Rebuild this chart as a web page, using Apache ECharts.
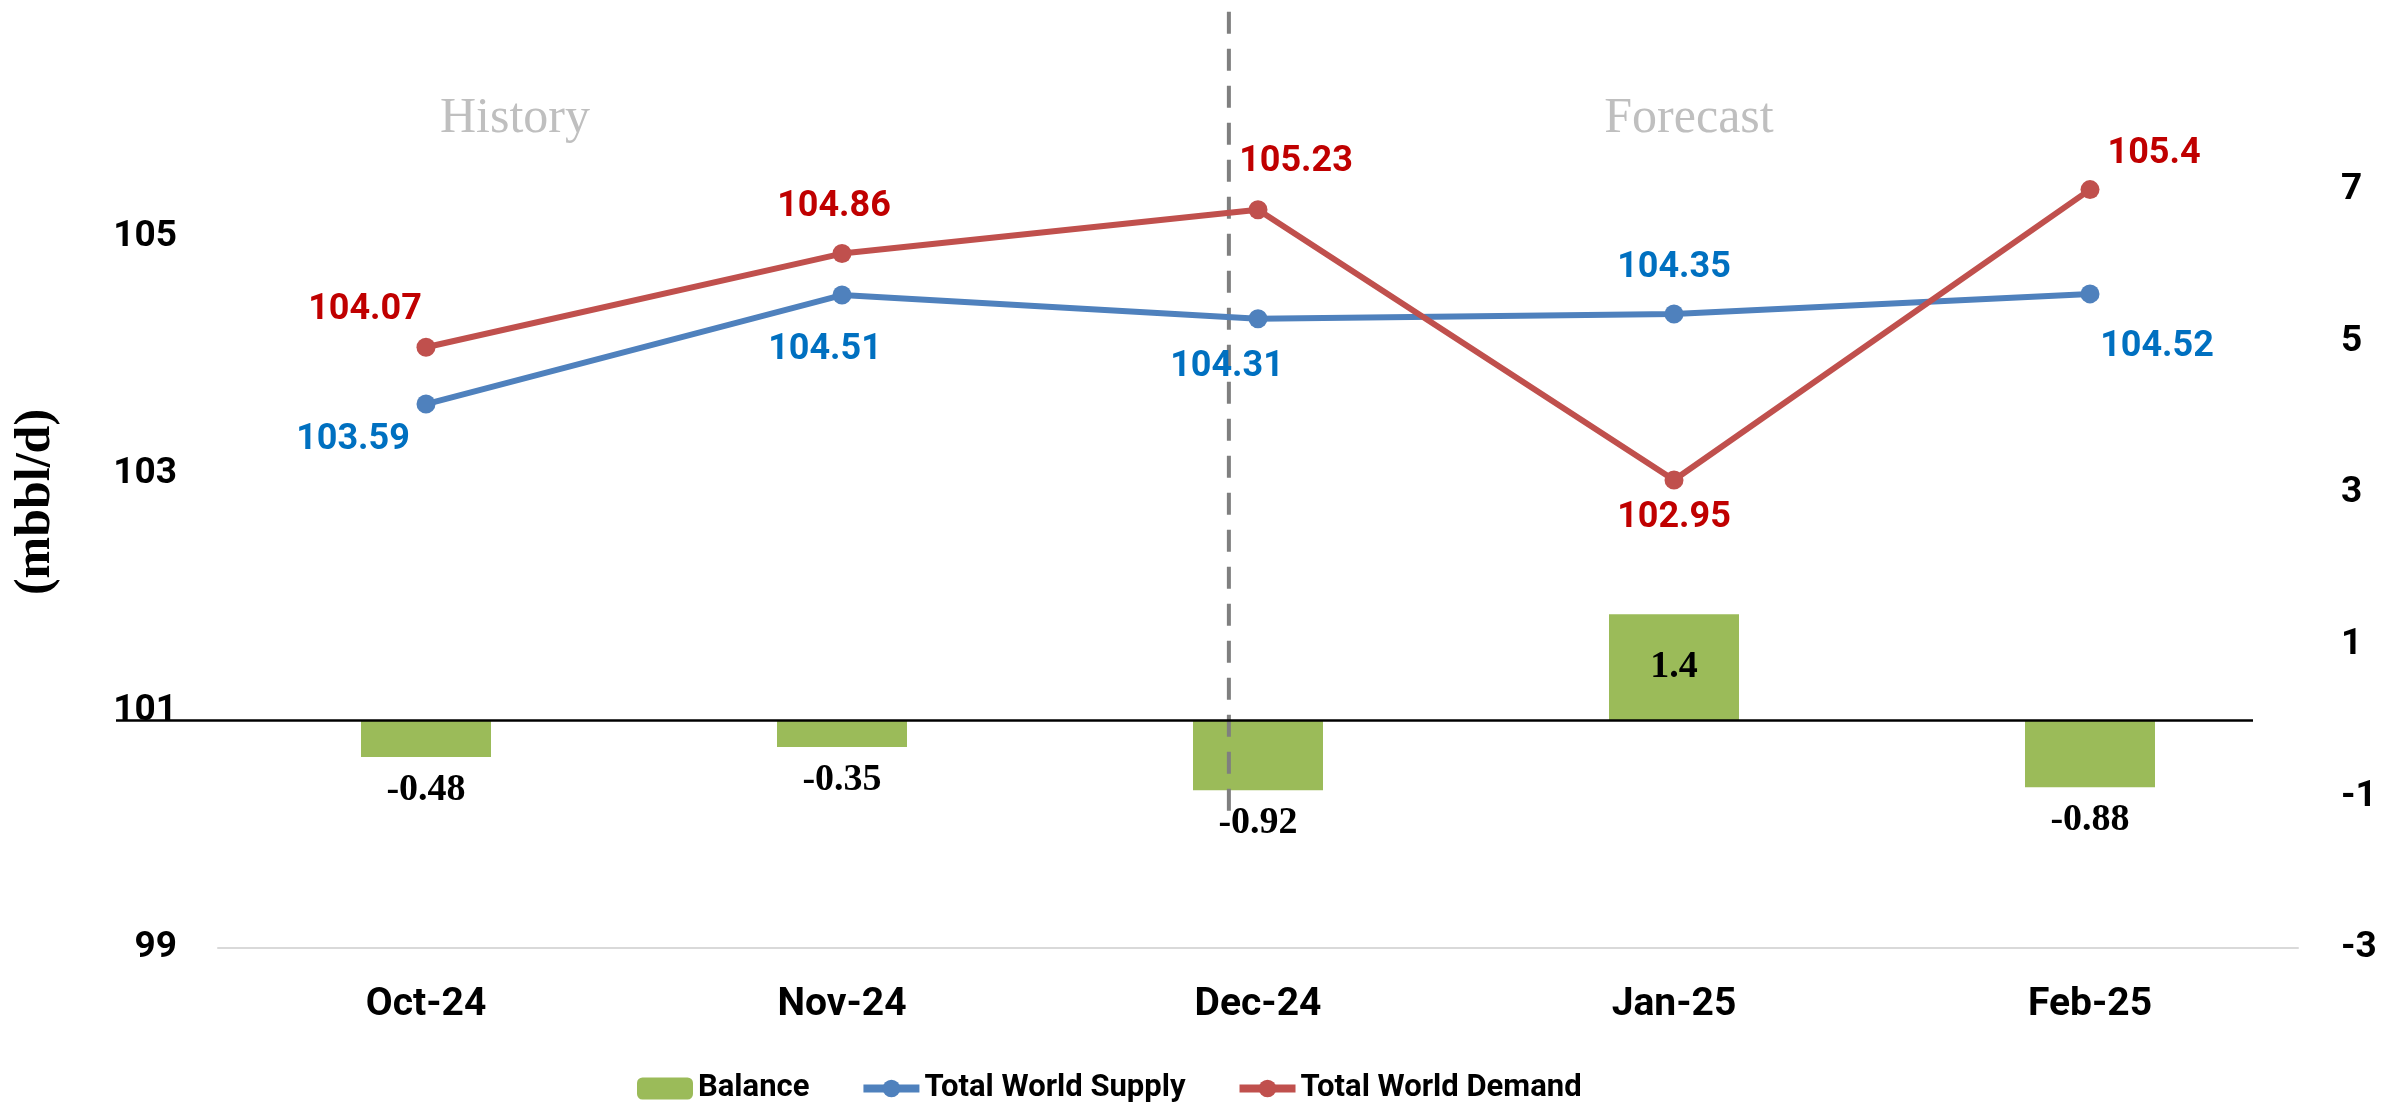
<!DOCTYPE html>
<html>
<head>
<meta charset="utf-8">
<script src="https://cdn.jsdelivr.net/npm/echarts@6/dist/echarts.min.js"></script>
<style>
  html, body { margin: 0; padding: 0; background: #fff; }
  #chart { width: 2389px; height: 1105px; }
</style>
</head>
<body>
<div id="chart"></div>
<script>
// months on the x axis
const months = ['Oct-24', 'Nov-24', 'Dec-24', 'Jan-25', 'Feb-25'];
// mbbl/d, left axis
const supply = [103.59, 104.51, 104.31, 104.35, 104.52];
const demand = [104.07, 104.86, 105.23, 102.95, 105.4];
// balance, right axis
const balance = [-0.48, -0.35, -0.92, 1.4, -0.88];
// tick labels that are shown
const leftTicks = [99, 101, 103, 105];
const rightTicks = [-3, -1, 1, 3, 5, 7];
// history / forecast divider, in category units (0..5) and left axis span
const dividerX = 2.43;
const dividerSpan = [106.9, 100.12];

// label offsets (px) around the markers
const supplyLabelOffset = [[-73, 36], [-17, 55], [-31, 48], [0, -46], [67, 53]];
const demandLabelOffset = [[-61, -37], [-8, -47], [38, -48], [0, 38], [64, -36]];

const sans = 'Roboto';
const serif = "'Liberation Serif', serif";

const chart = echarts.init(document.getElementById('chart'), null, { renderer: 'canvas' });

function lineData(values, offsets) {
  return values.map((v, i) => ({
    value: v,
    label: { position: 'inside', offset: offsets[i] }
  }));
}

const tickLabel = {
  fontFamily: sans, fontWeight: 'bold', fontSize: 37, color: '#000'
};

const option = {
  animation: false,
  backgroundColor: '#ffffff',
  grid: { left: 218, right: 91, top: 0, bottom: 157, containLabel: false },
  legend: {
    left: 632,
    top: 1068,
    itemWidth: 56,
    itemHeight: 22,
    itemGap: 50,
    data: [
      { name: 'Balance' },
      { name: 'Total World Supply', lineStyle: { width: 8 } },
      { name: 'Total World Demand', lineStyle: { width: 8 } }
    ],
    lineStyle: { width: 8 },
    textStyle: { fontFamily: sans, fontWeight: 'bold', fontSize: 31, color: '#000' }
  },
  graphic: [
    { type: 'text', x: 515, y: 119, silent: true,
      style: { text: 'History', fill: '#BFBFBF', font: '50px ' + serif, align: 'center', verticalAlign: 'middle' } },
    { type: 'text', x: 1689, y: 119, silent: true,
      style: { text: 'Forecast', fill: '#BFBFBF', font: '50px ' + serif, align: 'center', verticalAlign: 'middle' } },
    { type: 'text', x: 36, y: 502, rotation: Math.PI / 2, silent: true,
      style: { text: '(mbbl/d)', fill: '#000', font: 'bold 50px ' + serif, align: 'center', verticalAlign: 'middle' } }
  ],
  xAxis: [
    {
      type: 'category',
      data: months,
      boundaryGap: true,
      axisLine: { onZero: false, lineStyle: { color: '#D9D9D9', width: 2 } },
      axisTick: { show: false },
      axisLabel: { margin: 38, fontFamily: sans, fontWeight: 'bold', fontSize: 39, color: '#000' }
    },
    { type: 'value', min: 0, max: 5, show: false }
  ],
  yAxis: [
    {
      type: 'value',
      min: 99,
      max: 107,
      interval: 2,
      axisLine: { show: false },
      axisTick: { show: false },
      splitLine: { show: false },
      axisLabel: Object.assign({
        margin: 41,
        formatter: v => leftTicks.includes(v) ? String(v) : ''
      }, tickLabel)
    },
    {
      type: 'value',
      min: -3,
      max: 9.5,
      interval: 2,
      axisLine: { show: false },
      axisTick: { show: false },
      splitLine: { show: false },
      axisLabel: Object.assign({
        margin: 43,
        formatter: v => rightTicks.includes(v) ? String(v) : ''
      }, tickLabel)
    }
  ],
  series: [
    {
      id: 'balance',
      name: 'Balance',
      type: 'bar',
      yAxisIndex: 1,
      barWidth: 130,
      itemStyle: { color: '#9BBB59' },
      z: 1,
      label: {
        show: true,
        distance: 14,
        fontFamily: serif, fontWeight: 'bold', fontSize: 38, color: '#000'
      },
      data: balance.map(v => ({ value: v, label: { position: v >= 0 ? 'inside' : 'bottom' } })),
      markLine: {
        silent: true,
        symbol: 'none',
        label: { show: false },
        lineStyle: { color: '#000', width: 2.5, type: 'solid' },
        data: [{ yAxis: 0 }]
      }
    },
    {
      name: 'divider',
      type: 'line',
      xAxisIndex: 1,
      yAxisIndex: 0,
      symbol: 'none',
      silent: true,
      z: 2,
      lineStyle: { color: '#7F7F7F', width: 4, type: [22, 15] },
      data: [[dividerX, dividerSpan[0]], [dividerX, dividerSpan[1]]]
    },
    {
      name: 'Total World Supply',
      type: 'line',
      symbol: 'circle',
      symbolSize: 19,
      z: 3,
      lineStyle: { color: '#4F81BD', width: 6 },
      itemStyle: { color: '#4F81BD' },
      label: { show: true, fontFamily: sans, fontWeight: 'bold', fontSize: 36, color: '#0070C0' },
      data: lineData(supply, supplyLabelOffset)
    },
    {
      name: 'Total World Demand',
      type: 'line',
      symbol: 'circle',
      symbolSize: 19,
      z: 4,
      lineStyle: { color: '#C0504D', width: 6 },
      itemStyle: { color: '#C0504D' },
      label: { show: true, fontFamily: sans, fontWeight: 'bold', fontSize: 36, color: '#C00000' },
      data: lineData(demand, demandLabelOffset)
    }
  ]
};

chart.setOption(option);

// the zero line of the balance axis runs a little past the plot on the left, as in the source
const y0 = chart.convertToPixel({ yAxisIndex: 1 }, 0);
chart.setOption({
  series: [{
    id: 'balance',
    markLine: { data: [[{ x: 116, y: y0 }, { x: 2253, y: y0 }]] }
  }]
});
</script>
</body>
</html>
